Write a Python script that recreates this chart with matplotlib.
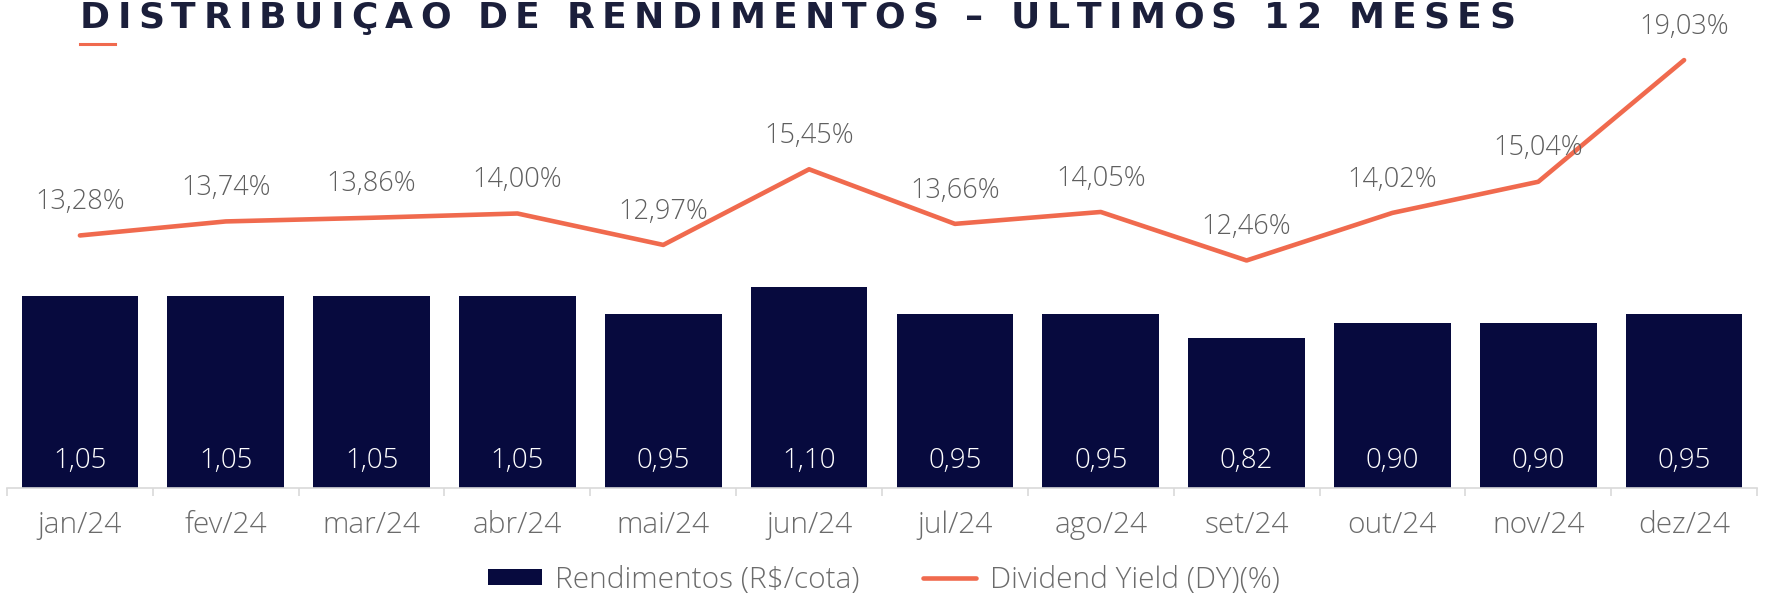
import matplotlib
matplotlib.use('Agg')
import matplotlib.pyplot as plt
from matplotlib.lines import Line2D
from matplotlib import font_manager
from matplotlib.ft2font import FT2Font
import numpy as np

months = ['jan/24', 'fev/24', 'mar/24', 'abr/24', 'mai/24', 'jun/24',
          'jul/24', 'ago/24', 'set/24', 'out/24', 'nov/24', 'dez/24']
rendimentos = [1.05, 1.05, 1.05, 1.05, 0.95, 1.10, 0.95, 0.95, 0.82, 0.90, 0.90, 0.95]
dy = [13.28, 13.74, 13.86, 14.00, 12.97, 15.45, 13.66, 14.05, 12.46, 14.02, 15.04, 19.03]

title = 'DISTRIBUIÇAO DE RENDIMENTOS – ULTIMOS 12 MESES'

navy = '#070a3e'
orange = '#f06a4e'
gray_txt = '#5f5f5f'

plt.rcParams['font.family'] = ['Open Sans', 'DejaVu Sans']

W, H = 1768, 594
fig = plt.figure(figsize=(W / 100, H / 100), dpi=100)
ax = fig.add_axes([7 / W, 1 - 488 / H, 1750 / W, 488 / H])
ax2 = ax.twinx()

x = np.arange(len(months))
bars = ax.bar(x, rendimentos, width=0.8, color=navy, label='Rendimentos (R$/cota)', zorder=2)
for xi, v in zip(x, rendimentos):
    ax.annotate(f'{v:.2f}'.replace('.', ','), (xi, 0), xytext=(0, 19.5), textcoords='offset points',
                ha='center', va='center', color='white', fontsize=20, fontweight='light')

line, = ax2.plot(x, dy, color=orange, lw=3.3, solid_capstyle='round', solid_joinstyle='round',
                 label='Dividend Yield (DY)(%)', zorder=3)
for xi, v in zip(x, dy):
    ax2.annotate(f'{v:.2f}%'.replace('.', ','), (xi, v), xytext=(0, 24), textcoords='offset points',
                 ha='center', va='center', color=gray_txt, fontsize=19.5, fontweight='light',
                 annotation_clip=False)

ax.set_xlim(-0.5, len(months) - 0.5)
ax.set_ylim(0, 2.665)
ax2.set_ylim(5, 21)

for a in (ax, ax2):
    for s in ['top', 'right', 'left']:
        a.spines[s].set_visible(False)
    a.set_yticks([])
ax2.spines['bottom'].set_visible(False)
ax.spines['bottom'].set_color('#d9d9d9')
ax.spines['bottom'].set_linewidth(1.2)

ax.set_xticks(x)
ax.set_xticklabels(months, fontsize=21.5, color='#6b6b6b', fontweight='light')
ax.tick_params(axis='x', which='major', length=0, pad=16)
ax.set_xticks(np.arange(-0.5, len(months)), minor=True)
ax.tick_params(axis='x', which='minor', length=6, width=1.2, color='#d9d9d9', direction='out')

ax.set_zorder(1)
ax2.set_zorder(2)
ax.patch.set_visible(False)
ax2.patch.set_visible(False)

fig.legend(handles=[bars, line], loc='center', bbox_to_anchor=(0.5, 1 - 580 / H), ncol=2,
           frameon=False, handlelength=1.8, handleheight=0.45, handletextpad=0.45,
           columnspacing=2.1, labelcolor='#6b6b6b', prop={'weight': 'light', 'size': 21.5})

# title: place each letter so the wide tracking of the original is kept
title_size = 26
title_prop = font_manager.FontProperties(family='DejaVu Sans', weight='bold', size=title_size)
ft = FT2Font(font_manager.findfont(title_prop))
ft.set_size(title_size, 100)
adv = []
for ch in title:
    try:
        g = ft.load_char(ord(ch))
        adv.append(g.linearHoriAdvance / 65536)
    except Exception:
        adv.append(title_size * 0.6)
x0, x1 = 80, 1515
track = (x1 - x0 - sum(adv)) / (len(title) - 1)
cx = x0
for ch, a in zip(title, adv):
    fig.text(cx / W, 1 - 28 / H, ch, ha='left', va='baseline', fontproperties=title_prop,
             color='#1b1f3b')
    cx += a + track
fig.add_artist(Line2D([80 / W, 115 / W], [1 - 44 / H, 1 - 44 / H], color=orange, lw=2.2,
                      transform=fig.transFigure))

fig.savefig('out.png', dpi=100)
